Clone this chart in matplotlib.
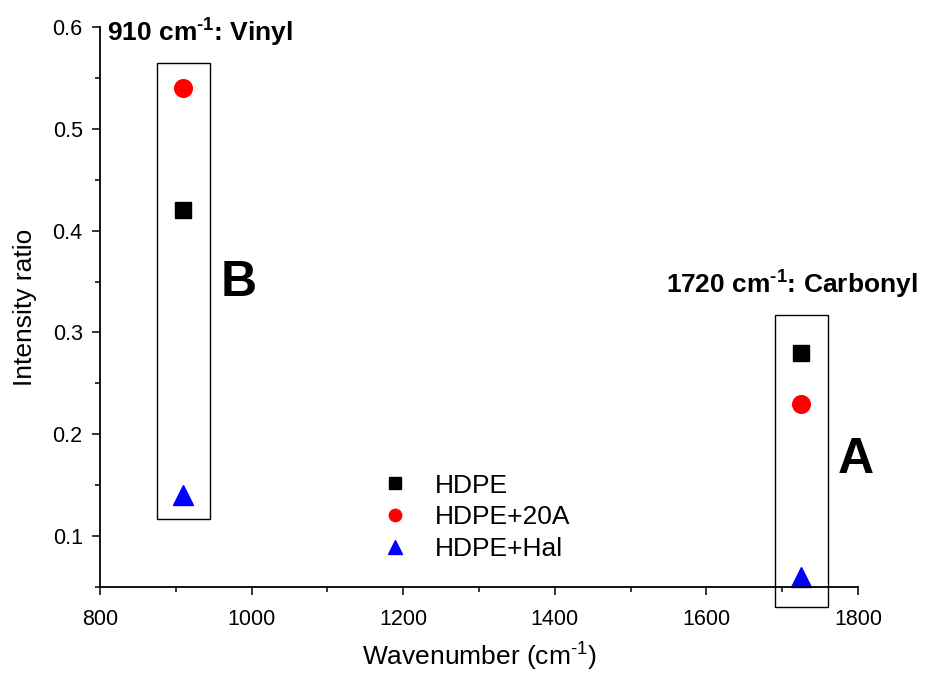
import matplotlib
matplotlib.use('Agg')
import matplotlib.pyplot as plt
from matplotlib.patches import Rectangle
from matplotlib.ticker import MultipleLocator

plt.rcParams['font.family'] = ['Liberation Sans', 'DejaVu Sans']
plt.rcParams['mathtext.fontset'] = 'custom'
plt.rcParams['mathtext.rm'] = 'Liberation Sans'
plt.rcParams['mathtext.bf'] = 'Liberation Sans:bold'
plt.rcParams['mathtext.default'] = 'regular'

# band positions (cm-1): vinyl, carbonyl
wavenumber = [910, 1725]
hdpe = [0.42, 0.28]
hdpe_20a = [0.54, 0.23]
hdpe_hal = [0.14, 0.06]
series_names = ['HDPE', 'HDPE+20A', 'HDPE+Hal']

# boxes round each band group: (x, y, width, height) in data units
boxes = [(875, 0.117, 70, 0.448), (1690, 0.030, 70, 0.287)]

fig = plt.figure(figsize=(9.35, 6.75), dpi=100)
ax = fig.add_axes([0.107, 0.1304, 0.8106, 0.8296])

ax.plot(wavenumber, hdpe, 's', color='black', ms=11.5, label=series_names[0], clip_on=False)
ax.plot(wavenumber, hdpe_20a, 'o', color='red', ms=12.7, label=series_names[1], clip_on=False)
ax.plot(wavenumber, hdpe_hal, '^', color='blue', ms=14.5, label=series_names[2], clip_on=False)

for (bx, by, bw, bh) in boxes:
    ax.add_patch(Rectangle((bx, by), bw, bh, fill=False, edgecolor='black',
                           linewidth=1.0, clip_on=False))

sup = r'$^{\mathbf{‐}\mathbf{1}}$'
ax.text(809, 0.586, '910 cm' + sup + ': Vinyl', fontsize=19, fontweight='bold')
ax.text(1547, 0.338, '1720 cm' + sup + ': Carbonyl', fontsize=19, fontweight='bold')
ax.text(983, 0.336, 'B', fontsize=36, fontweight='bold', ha='center')
ax.text(1797, 0.162, 'A', fontsize=36, fontweight='bold', ha='center')

ax.set_xlim(800, 1800)
ax.set_ylim(0.05, 0.6)
ax.xaxis.set_major_locator(MultipleLocator(200))
ax.xaxis.set_minor_locator(MultipleLocator(100))
ax.yaxis.set_major_locator(MultipleLocator(0.1))
ax.yaxis.set_minor_locator(MultipleLocator(0.05))
ax.tick_params(which='major', direction='out', length=6, width=1.1, labelsize=15.5)
ax.tick_params(which='minor', direction='out', length=3.8, width=1.1)
ax.tick_params(axis='x', which='major', pad=9.5)
ax.tick_params(axis='y', which='major', pad=6.5)
ax.spines['top'].set_visible(False)
ax.spines['right'].set_visible(False)
for s in ['left', 'bottom']:
    ax.spines[s].set_linewidth(1.3)

ax.set_xlabel('Wavenumber (cm$^{‐1}$)', fontsize=19, labelpad=8)
ax.set_ylabel('Intensity ratio', fontsize=19, labelpad=11)

ax.legend(loc='upper left', bbox_to_anchor=(0.33, 0.245), frameon=False, fontsize=19,
          markerscale=0.7, handletextpad=0.7, labelspacing=0.3, handlelength=1.6)

plt.savefig('out.png', dpi=100)
